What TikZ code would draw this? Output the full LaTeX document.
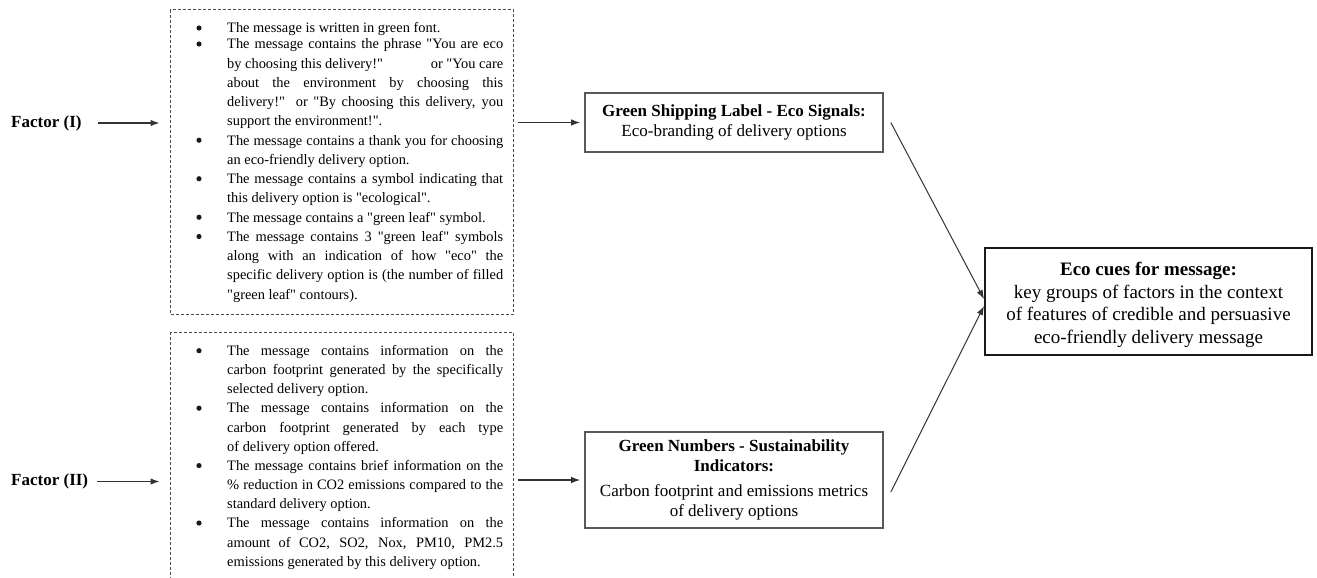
\documentclass[tikz,border=0pt]{standalone}
\usepackage{fontspec}
\setmainfont{Liberation Serif}
\usetikzlibrary{arrows.meta}
\newcommand{\mybitem}[1]{\hspace*{30.5pt}\makebox[276pt][s]{#1}\par}
\newcommand{\mybitemlast}[1]{\hspace*{30.5pt}#1\par}
\newcommand{\myjline}[1]{\hspace*{30.5pt}\makebox[276pt][s]{#1}\par}
\newcommand{\mylline}[1]{\hspace*{30.5pt}#1\par}
\newcommand{\qq}{\textquotedbl{}}
\begin{document}
\begin{tikzpicture}[x=1pt,y=-1pt,
  dbox/.style={draw=black!70, line width=1pt, dash pattern=on 3pt off 2pt, inner sep=0},
  gbox/.style={draw=black!65, line width=1.6pt, align=center, font=\fontsize{17}{20}\selectfont, inner sep=0},
  ebox/.style={draw=black!90, line width=2pt, align=center, font=\fontsize{19}{22.5}\selectfont, inner sep=0},
  factor/.style={font=\fontsize{17}{20}\selectfont\bfseries, inner sep=0},
  listtext/.style={inner sep=0, anchor=base west},
  bul/.style={fill=black!90},
  arr/.style={-{Latex[length=9pt,width=6.5pt]}, line width=1.2pt, draw=black!80}]
\useasboundingbox (0,0) rectangle (1317,578);
% dashed boxes
\node[dbox, minimum width=343pt, minimum height=304pt] (box1) at (342,162) {};
\node[dbox, minimum width=343pt, minimum height=280pt] (box2) at (342,472.7) {};
% lists
\node[listtext] (list1) at (196.5,32.8) {\begin{minipage}[t]{320pt}\fontsize{14.4}{19.25}\selectfont
\mybitemlast{The message is written in green font.}\vspace{-3.25pt}
\mybitem{The message contains the phrase \qq You are eco}
\myjline{by choosing this delivery!\qq\hfill or \qq You care}
\myjline{about the environment by choosing this}
\myjline{delivery!\qq{} or \qq By choosing this delivery, you}
\mylline{support the environment!\qq.}
\mybitem{The message contains a thank you for choosing}
\mylline{an eco-friendly delivery option.}
\mybitem{The message contains a symbol indicating that}
\mylline{this delivery option is \qq ecological\qq.}
\mybitemlast{The message contains a \qq green leaf\qq{} symbol.}
\mybitem{The message contains 3 \qq green leaf\qq{} symbols}
\myjline{along with an indication of how \qq eco\qq{} the}
\myjline{specific delivery option is (the number of filled}
\mylline{\qq green leaf\qq{} contours).}
\end{minipage}};
\node[listtext] (list2) at (196.5,355.5) {\begin{minipage}[t]{320pt}\fontsize{14.4}{19.15}\selectfont
\mybitem{The message contains information on the}
\myjline{carbon footprint generated by the specifically}
\mylline{selected delivery option.}
\mybitem{The message contains information on the}
\myjline{carbon footprint generated by each type}
\mylline{of delivery option offered.}
\mybitem{The message contains brief information on the}
\myjline{\% reduction in CO2 emissions compared to the}
\mylline{standard delivery option.}
\mybitem{The message contains information on the}
\myjline{amount of CO2, SO2, Nox, PM10, PM2.5}
\mylline{emissions generated by this delivery option.}
\end{minipage}};
% bullets
\foreach \by in {28, 44, 140.25, 178.75, 217.25, 236.5, 350.7, 408.15, 465.6, 523.05}
  \fill[bul] (199,\by) circle (2.6pt);
% factors
\node[factor, anchor=west] (f1) at (11,123) {Factor (I)};
\node[factor, anchor=west] (f2) at (11,481.5) {Factor (II)};
% green boxes
\node[gbox, minimum width=298pt, minimum height=59pt] (g1) at (734,122.5)
  {\textbf{Green Shipping Label - Eco Signals:}\\Eco-branding of delivery options};
\node[gbox, minimum width=298pt, minimum height=96pt] (g2) at (734,480)
  {\textbf{Green Numbers - Sustainability}\\\textbf{Indicators:}\\[5pt]Carbon footprint and emissions metrics\\of delivery options};
% eco box
\node[ebox, minimum width=327pt, minimum height=107pt] (eco) at (1148.5,301.5)
  {\rule{0pt}{20pt}\textbf{Eco cues for message:}\\key groups of factors in the context\\of features of credible and persuasive\\eco-friendly delivery message};
% connectors
\draw[arr, shorten <=16pt, shorten >=10.5pt] (f1.east) -- (f1.east -| box1.west);
\draw[arr, shorten <=3.5pt, shorten >=4pt] (box1.east |- g1.west) -- (g1.west);
\draw[arr, shorten <=8.5pt, shorten >=10.5pt] (f2.east) -- (f2.east -| box2.west);
\draw[arr, shorten <=3.5pt, shorten >=4pt] (box2.east |- g2.west) -- (g2.west);
\draw[arr, line width=1pt] ([xshift=7pt]g1.east) -- ([yshift=2.5pt]eco.west);
\draw[arr, line width=1pt] ([xshift=7pt,yshift=-12pt]g2.east) -- ([yshift=-4.5pt]eco.west);
\end{tikzpicture}
\end{document}
